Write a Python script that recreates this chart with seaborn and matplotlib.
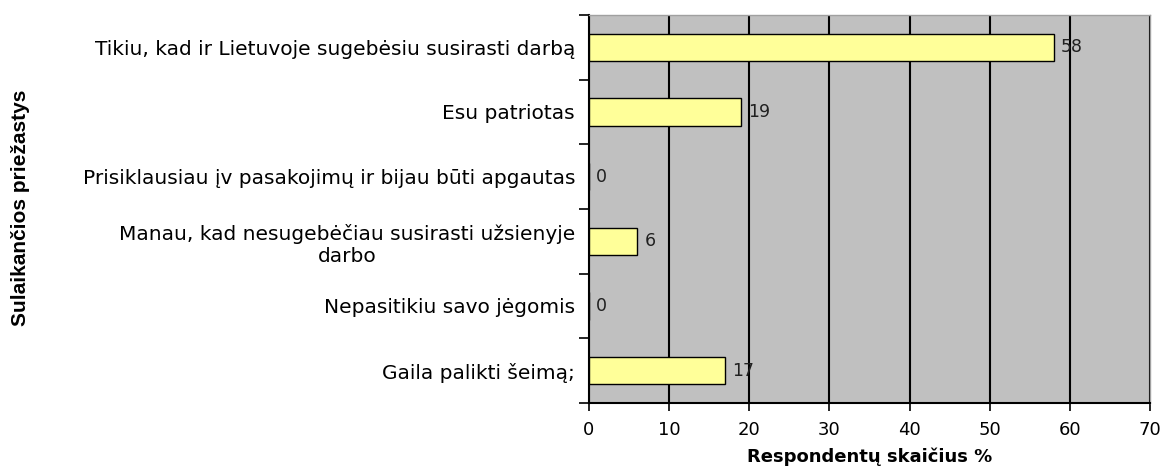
import pandas as pd
import matplotlib.pyplot as plt
import seaborn as sns

# Duomenys
reasons = [
    "Tikiu, kad ir Lietuvoje sugebėsiu susirasti darbą",
    "Esu patriotas",
    "Prisiklausiau įv pasakojimų ir bijau būti apgautas",
    "Manau, kad nesugebėčiau susirasti užsienyje\ndarbo",
    "Nepasitikiu savo jėgomis",
    "Gaila palikti šeimą;",
]
percent = [58, 19, 0, 6, 0, 17]
x_ticks = [0, 10, 20, 30, 40, 50, 60, 70]

df = pd.DataFrame({"reason": reasons, "percent": percent})

sns.set_style("white")
plt.rcParams["font.family"] = ["DejaVu Sans"]
plt.rcParams["text.color"] = "black"
plt.rcParams["xtick.color"] = "black"
plt.rcParams["ytick.color"] = "black"
plt.rcParams["axes.labelcolor"] = "black"

fig = plt.figure(figsize=(11.64, 4.68), dpi=100)
ax = fig.add_axes([0.506, 0.139, 0.482, 0.829])
ax.set_facecolor("#C0C0C0")

sns.barplot(data=df, x="percent", y="reason", orient="h", width=0.42,
            color="#FFFF99", saturation=1, edgecolor="black", linewidth=1, ax=ax, zorder=3)

for i, v in enumerate(percent):
    ax.text(v + 0.9, i, str(v), va="center", ha="left", fontsize=12.5, color="#202020", zorder=4)

ax.set_xlim(0, 70)
ax.set_ylim(5.5, -0.5)
ax.set_xticks(x_ticks)
ax.set_xticklabels([str(t) for t in x_ticks], fontsize=13)
ax.xaxis.grid(True, color="black", linewidth=1.5, zorder=1)
ax.set_axisbelow(True)

ax.set_yticks(range(len(reasons)))
ax.set_yticklabels(reasons, fontsize=14.5)
for lbl in ax.get_yticklabels():
    lbl.set_multialignment("center")
ax.set_yticks([i - 0.5 for i in range(len(reasons) + 1)], minor=True)
ax.tick_params(axis="y", which="major", left=False, length=0, pad=10)
ax.tick_params(axis="y", which="minor", left=True, length=7, width=1.2, direction="out")
ax.tick_params(axis="x", bottom=True, length=6, width=1.2, direction="out", pad=7)

for side in ["left", "bottom"]:
    ax.spines[side].set_color("black")
    ax.spines[side].set_linewidth(1.5)
for side in ["top", "right"]:
    ax.spines[side].set_color("#A0A0A0")
    ax.spines[side].set_linewidth(1)

ax.set_xlabel("Respondentų skaičius %", fontsize=13, fontweight="bold", labelpad=6)
ax.set_ylabel("")
fig.text(0.018, 0.555, "Sulaikančios priežastys", rotation=90, ha="center", va="center",
         fontsize=15, fontweight="bold", stretch="condensed",
         family=["Liberation Sans Narrow", "Liberation Sans", "DejaVu Sans"])

plt.savefig("out.png", dpi=100)
